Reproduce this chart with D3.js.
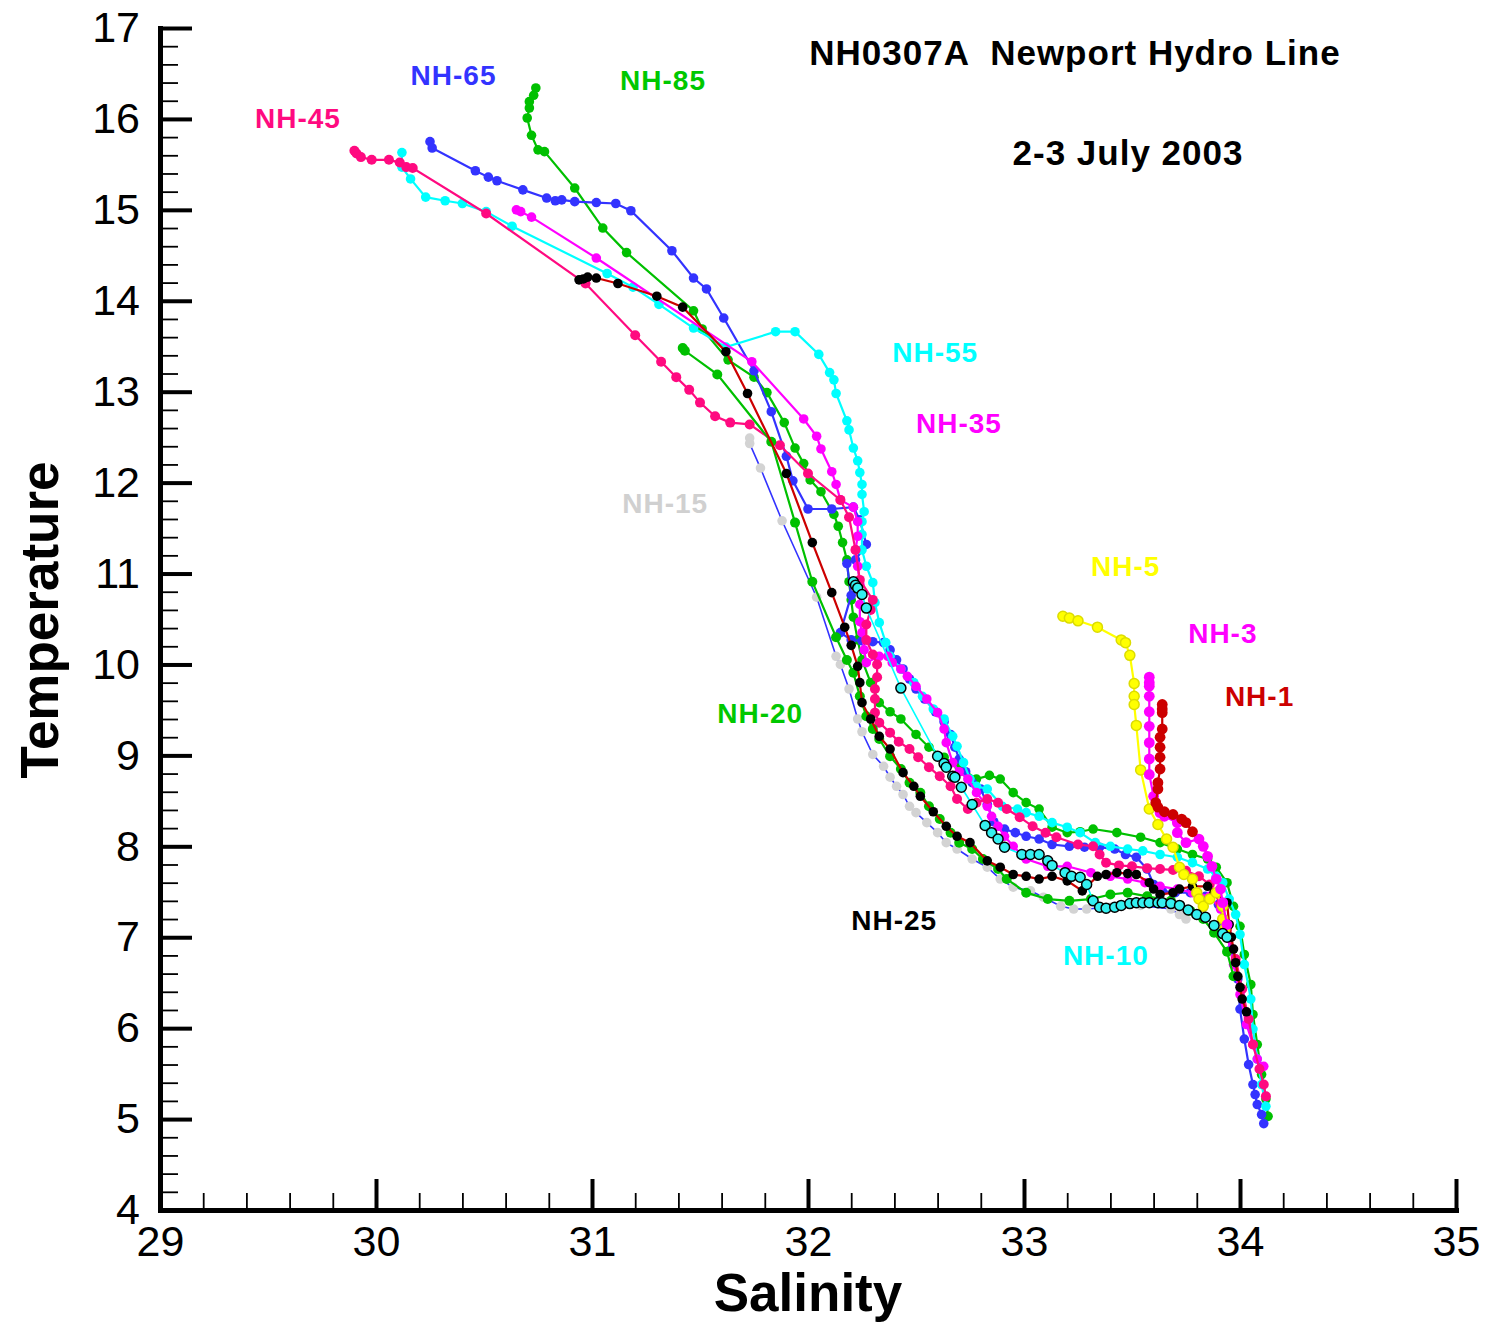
<!DOCTYPE html>
<html>
<head>
<meta charset="utf-8">
<script src="https://cdn.jsdelivr.net/npm/d3@7"></script>
<style>
  body { margin: 0; background: #fff; }
  svg { display: block; font-family: Arial, "Liberation Sans", sans-serif; }
  .axis .domain { stroke: #000; stroke-width: 5; stroke-linecap: square; }
  .axis .tick line { stroke: #000; stroke-width: 4; }
  .minor .tick line { stroke: #000; stroke-width: 1.8; }
  .minor .domain { display: none; }
  .axis text { font-size: 43px; fill: #000; }
  .stlabel { font-size: 28px; font-weight: bold; letter-spacing: 1px; }
</style>
</head>
<body>
<div id="container"></div>
<script>
// ---------------------------- DATA ----------------------------
// [salinity, temperature] pairs, one array per station
const nh1 = [[33.64,9.56],[33.64,9.51],[33.64,9.47],[33.64,9.29],[33.63,9.20],[33.63,9.09],[33.63,8.98],[33.63,8.85],
  [33.62,8.70],[33.62,8.63],[33.61,8.48],[33.62,8.43],[33.65,8.38],[33.69,8.35],[33.73,8.30],[33.75,8.26],[33.78,8.16]];

const nh3 = [[33.58,9.86],[33.58,9.80],[33.58,9.76],[33.58,9.65],[33.58,9.48],[33.58,9.32],[33.58,9.14],[33.58,8.96],
  [33.58,8.79],[33.60,8.55],[33.63,8.37],[33.65,8.33],[33.71,8.26],[33.71,8.15],[33.75,8.04],[33.81,8.08],
  [33.83,8.00],[33.85,7.89],[33.87,7.78],[33.89,7.64],[33.91,7.53],[33.92,7.38],[33.94,7.14]];

const nh5 = [[33.18,10.53],[33.21,10.51],[33.25,10.48],[33.34,10.41],[33.45,10.27],[33.47,10.24],[33.49,10.10],
  [33.51,9.79],[33.51,9.65],[33.51,9.56],[33.52,9.33],[33.54,8.84],[33.58,8.41],[33.62,8.24],[33.66,8.08],
  [33.69,7.99],[33.72,7.77],[33.74,7.69],[33.78,7.64],[33.80,7.49],[33.81,7.42],[33.83,7.34],[33.86,7.42],
  [33.89,7.49],[33.92,7.34],[33.92,7.20],[33.93,7.09]];

const nh10 = [[32.21,10.91],[32.22,10.87],[32.23,10.84],[32.25,10.77],[32.27,10.62],[32.43,9.74],[32.60,8.99],
  [32.63,8.91],[32.64,8.87],[32.67,8.77],[32.68,8.76],[32.71,8.65],[32.76,8.46],[32.82,8.23],[32.85,8.15],
  [32.88,8.08],[32.91,7.99],[32.99,7.91],[33.03,7.91],[33.07,7.91],[33.11,7.84],[33.13,7.79],[33.19,7.71],
  [33.22,7.67],[33.26,7.66],[33.29,7.58],[33.32,7.40],[33.35,7.33],[33.38,7.32],[33.42,7.33],[33.45,7.35],
  [33.49,7.37],[33.52,7.38],[33.55,7.38],[33.58,7.38],[33.62,7.38],[33.64,7.38],[33.68,7.37],[33.72,7.35],
  [33.76,7.30],[33.80,7.25],[33.84,7.22],[33.88,7.13],[33.92,7.04],[33.94,7.00]];

const nh15 = [[31.73,12.49],[31.73,12.43],[31.78,12.16],[31.88,11.58],[32.04,10.74],[32.13,10.09],[32.15,10.00],
  [32.19,9.73],[32.23,9.40],[32.25,9.26],[32.30,9.01],[32.35,8.88],[32.38,8.76],[32.41,8.66],[32.44,8.57],
  [32.47,8.44],[32.50,8.37],[32.55,8.26],[32.60,8.15],[32.64,8.04],[32.69,7.97],[32.76,7.86],[32.83,7.77],
  [32.89,7.64],[32.95,7.55],[33.03,7.51],[33.09,7.44],[33.17,7.34],[33.23,7.31],[33.29,7.31],[33.40,7.33],
  [33.54,7.35],[33.68,7.31],[33.72,7.25],[33.75,7.20]];

const nh20 = [[31.42,13.48],[31.43,13.45],[31.58,13.19],[31.83,12.45],[31.94,11.56],[32.02,10.91],[32.13,10.30],
  [32.18,10.05],[32.21,9.91],[32.24,9.65],[32.27,9.43],[32.30,9.29],[32.33,9.18],[32.38,8.99],[32.43,8.85],
  [32.47,8.70],[32.52,8.59],[32.56,8.44],[32.61,8.30],[32.66,8.15],[32.70,8.04],[32.76,7.97],[32.81,7.86],
  [32.88,7.75],[32.92,7.64],[33.01,7.49],[33.11,7.42],[33.21,7.40],[33.31,7.42],[33.40,7.47],[33.48,7.49],
  [33.57,7.45],[33.68,7.40],[33.77,7.29],[33.83,7.20],[33.88,7.05],[33.94,6.84],[33.97,6.57]];

const nh25 = [[30.94,14.23],[30.96,14.24],[30.98,14.26],[31.02,14.25],[31.12,14.19],[31.30,14.05],[31.42,13.93],
  [31.62,13.44],[31.72,12.98],[31.90,12.10],[32.02,11.34],[32.11,10.79],[32.17,10.41],[32.20,10.21],[32.23,9.98],
  [32.24,9.80],[32.25,9.58],[32.29,9.40],[32.33,9.21],[32.38,9.07],[32.44,8.81],[32.49,8.66],[32.52,8.55],
  [32.58,8.38],[32.64,8.22],[32.69,8.11],[32.75,8.04],[32.83,7.84],[32.89,7.77],[32.95,7.69],[33.01,7.67],
  [33.07,7.64],[33.13,7.67],[33.20,7.62],[33.27,7.51],[33.34,7.67],[33.38,7.69],[33.43,7.71],[33.48,7.70],
  [33.52,7.69],[33.58,7.60],[33.60,7.53],[33.63,7.47],[33.69,7.49],[33.72,7.53],[33.78,7.56],[33.85,7.56],
  [33.88,7.49],[33.94,7.38],[33.95,7.14],[33.96,7.00],[33.97,6.87],[33.98,6.72],[33.99,6.57],[34.00,6.45],
  [34.01,6.32],[34.03,6.18]];

const nh35 = [[30.65,15.00],[30.67,14.98],[30.72,14.92],[31.02,14.47],[31.74,13.33],[31.98,12.70],[32.04,12.51],
  [32.06,12.37],[32.11,12.12],[32.13,11.98],[32.15,11.81],[32.21,11.73],[32.23,11.57],[32.23,11.41],[32.22,11.26],
  [32.23,11.08],[32.24,10.88],[32.24,10.66],[32.24,10.47],[32.25,10.35],[32.26,10.16],[32.27,10.02],[32.33,10.09],
  [32.37,10.09],[32.39,10.02],[32.43,9.95],[32.46,9.87],[32.50,9.76],[32.55,9.62],[32.60,9.47],[32.63,9.29],
  [32.64,9.14],[32.67,8.92],[32.70,8.82],[32.74,8.74],[32.78,8.59],[32.83,8.44],[32.85,8.33],[32.88,8.22],
  [32.91,8.11],[32.95,8.00],[33.01,7.86],[33.11,7.78],[33.20,7.78],[33.31,7.71],[33.40,7.67],[33.48,7.64],
  [33.56,7.60],[33.63,7.56],[33.71,7.53],[33.78,7.49],[33.86,7.45],[33.91,7.31],[33.94,7.03],[33.97,6.70],
  [34.00,6.37],[34.03,6.04],[34.06,5.82],[34.08,5.66],[34.11,5.58]];

const nh45 = [[29.90,15.65],[29.91,15.62],[29.93,15.58],[29.98,15.55],[30.06,15.55],[30.11,15.52],[30.14,15.47],
  [30.17,15.46],[30.51,14.96],[30.97,14.19],[31.20,13.62],[31.32,13.33],[31.39,13.16],[31.45,13.02],[31.50,12.88],
  [31.57,12.73],[31.64,12.66],[31.73,12.64],[31.87,12.41],[32.00,12.10],[32.15,11.81],[32.19,11.62],[32.22,11.26],
  [32.24,10.93],[32.30,10.71],[32.29,10.60],[32.27,10.44],[32.27,10.27],[32.30,10.11],[32.32,10.00],[32.32,9.86],
  [32.31,9.73],[32.31,9.62],[32.31,9.47],[32.33,9.36],[32.38,9.25],[32.42,9.15],[32.47,9.07],[32.51,8.98],
  [32.56,8.87],[32.61,8.77],[32.66,8.66],[32.69,8.52],[32.74,8.41],[32.78,8.48],[32.83,8.52],[32.88,8.48],
  [32.92,8.41],[32.98,8.32],[33.04,8.22],[33.10,8.15],[33.15,8.10],[33.25,8.02],[33.32,8.00],[33.35,7.91],
  [33.38,7.82],[33.44,7.79],[33.50,7.78],[33.57,7.76],[33.63,7.75],[33.69,7.74],[33.75,7.73],[33.81,7.67],
  [33.86,7.58],[33.91,7.36],[33.94,7.09],[33.98,6.76],[34.01,6.43],[34.04,6.10],[34.06,5.82],[34.09,5.55],
  [34.11,5.38],[34.12,5.25]];

const nh55 = [[30.12,15.63],[30.12,15.47],[30.16,15.34],[30.23,15.14],[30.32,15.10],[30.40,15.07],[30.51,14.98],
  [30.63,14.82],[31.07,14.30],[31.19,14.15],[31.31,13.96],[31.47,13.70],[31.62,13.49],[31.85,13.66],[31.94,13.66],
  [32.05,13.41],[32.10,13.21],[32.12,13.13],[32.13,12.98],[32.18,12.68],[32.19,12.58],[32.21,12.38],[32.23,12.24],
  [32.24,12.11],[32.25,11.98],[32.25,11.87],[32.26,11.68],[32.25,11.57],[32.25,11.43],[32.25,11.26],[32.27,11.08],
  [32.30,10.90],[32.31,10.68],[32.33,10.46],[32.36,10.24],[32.38,10.09],[32.43,9.95],[32.49,9.80],[32.53,9.65],
  [32.58,9.51],[32.63,9.40],[32.67,9.21],[32.69,9.10],[32.72,8.92],[32.75,8.74],[32.78,8.66],[32.83,8.63],
  [32.90,8.44],[32.97,8.41],[33.01,8.37],[33.07,8.33],[33.13,8.26],[33.20,8.21],[33.26,8.15],[33.33,8.04],
  [33.40,8.00],[33.48,7.97],[33.55,7.95],[33.63,7.91],[33.71,7.88],[33.78,7.82],[33.85,7.75],[33.89,7.67],
  [33.92,7.60],[33.95,7.42],[33.98,7.25],[34.00,7.03],[34.02,6.70],[34.05,6.32],[34.06,5.99],[34.08,5.66],
  [34.10,5.38],[34.12,5.14]];

const nh65 = [[30.25,15.75],[30.26,15.68],[30.46,15.43],[30.52,15.36],[30.56,15.32],[30.68,15.22],[30.79,15.13],
  [30.83,15.10],[30.86,15.11],[30.92,15.09],[31.02,15.08],[31.11,15.07],[31.18,14.99],[31.37,14.55],[31.47,14.25],
  [31.53,14.13],[31.61,13.81],[31.75,13.23],[31.83,12.78],[31.90,12.29],[31.93,12.02],[32.00,11.71],[32.11,11.71],
  [32.21,11.73],[32.24,11.59],[32.27,11.32],[32.22,11.15],[32.18,11.11],[32.20,10.76],[32.15,10.35],[32.20,10.27],
  [32.25,10.26],[32.30,10.25],[32.35,10.24],[32.38,10.16],[32.41,10.05],[32.44,9.95],[32.47,9.84],[32.50,9.73],
  [32.54,9.62],[32.59,9.48],[32.63,9.37],[32.66,9.23],[32.68,9.09],[32.70,8.96],[32.73,8.82],[32.76,8.70],
  [32.80,8.63],[32.83,8.46],[32.86,8.27],[32.91,8.19],[32.96,8.15],[33.01,8.11],[33.07,8.08],[33.13,8.02],
  [33.21,8.00],[33.28,7.99],[33.35,7.99],[33.42,7.97],[33.47,7.91],[33.52,7.88],[33.57,7.75],[33.60,7.58],
  [33.64,7.51],[33.70,7.49],[33.77,7.49],[33.84,7.45],[33.90,7.36],[33.93,7.14],[33.96,6.87],[33.99,6.54],
  [34.00,6.21],[34.02,5.88],[34.04,5.60],[34.06,5.38],[34.07,5.27],[34.08,5.16],[34.10,5.05],[34.11,4.95]];

const nh85 = [[30.74,16.34],[30.73,16.26],[30.71,16.19],[30.71,16.12],[30.70,16.01],[30.72,15.82],[30.75,15.66],
  [30.78,15.64],[30.92,15.24],[31.05,14.80],[31.16,14.53],[31.47,13.89],[31.51,13.69],[31.63,13.35],[31.75,13.16],
  [31.81,12.99],[31.89,12.66],[31.94,12.38],[31.98,12.21],[32.01,12.03],[32.06,11.90],[32.12,11.65],[32.14,11.52],
  [32.16,11.34],[32.18,11.15],[32.19,10.91],[32.20,10.71],[32.21,10.52],[32.23,10.27],[32.25,10.05],[32.29,9.80],
  [32.33,9.58],[32.38,9.48],[32.43,9.40],[32.50,9.23],[32.56,9.09],[32.63,8.98],[32.70,8.87],[32.78,8.74],
  [32.84,8.78],[32.89,8.74],[32.95,8.59],[33.01,8.48],[33.07,8.41],[33.13,8.21],[33.20,8.15],[33.26,8.16],
  [33.32,8.19],[33.43,8.15],[33.54,8.10],[33.63,8.04],[33.71,7.97],[33.78,7.91],[33.85,7.86],[33.89,7.77],
  [33.94,7.60],[33.97,7.34],[34.00,7.12],[34.02,6.81],[34.05,6.48],[34.06,6.15],[34.08,5.82],[34.10,5.49],
  [34.12,5.22],[34.13,5.03]];

// label anchors (salinity, temperature)
const stationLabels = [
  ["NH-45", 29.44, 15.90], ["NH-65", 30.16, 16.37], ["NH-85", 31.13, 16.32],
  ["NH-55", 32.39, 13.33], ["NH-35", 32.50, 12.55], ["NH-15", 31.14, 11.67],
  ["NH-5", 33.31, 10.97], ["NH-3", 33.76, 10.24], ["NH-1", 33.93, 9.54],
  ["NH-20", 31.58, 9.36], ["NH-25", 32.20, 7.08], ["NH-10", 33.18, 6.69]
];

const salinityTicks = [29, 30, 31, 32, 33, 34, 35];
const temperatureTicks = [4, 5, 6, 7, 8, 9, 10, 11, 12, 13, 14, 15, 16, 17];

// drawing order and styles
const stations = [
  { name: "NH-15", data: nh15, line: "#3333ff", fill: "#d3d3d3", r: 4.8, lw: 1.6 },
  { name: "NH-85", data: nh85, line: "#00c000", fill: "#00c000", r: 4.8, lw: 2.2 },
  { name: "NH-65", data: nh65, line: "#3333ff", fill: "#3333ff", r: 4.8, lw: 2.2 },
  { name: "NH-55", data: nh55, line: "#00ffff", fill: "#00ffff", r: 4.8, lw: 2.2 },
  { name: "NH-35", data: nh35, line: "#ff00ff", fill: "#ff00ff", r: 4.8, lw: 2.2 },
  { name: "NH-45", data: nh45, line: "#ff0a80", fill: "#ff0a80", r: 5, lw: 2.2 },
  { name: "NH-20", data: nh20, line: "#00c000", fill: "#00c000", r: 5, lw: 2.2 },
  { name: "NH-25", data: nh25, line: "#cc0000", fill: "#000000", r: 4.8, lw: 2.2 },
  { name: "NH-5",  data: nh5,  line: "#ffff00", fill: "#ffff00", r: 5, lw: 2.2, stroke: "#dcdc00" },
  { name: "NH-3",  data: nh3,  line: "#ff00ff", fill: "#ff00ff", r: 5.4, lw: 2.2 },
  { name: "NH-1",  data: nh1,  line: "#cc0000", fill: "#cc0000", r: 5.4, lw: 2.2 },
  { name: "NH-10", data: nh10, line: "#00ffff", fill: "#33f0f0", r: 5, lw: 1.6, stroke: "#000" }
];

const labelColors = {
  "NH-45": "#ff0a80", "NH-65": "#3333ff", "NH-85": "#00c800", "NH-55": "#00ffff",
  "NH-35": "#ff00ff", "NH-15": "#d0d0d0", "NH-5": "#ffff00", "NH-3": "#ff00ff",
  "NH-1": "#cc0000", "NH-20": "#00c800", "NH-25": "#000000", "NH-10": "#00ffff"
};

// ---------------------------- SVG ----------------------------
const width = 1485;
const height = 1322;

const svg = d3.select("#container").append("svg")
  .attr("width", width)
  .attr("height", height);

const x = d3.scaleLinear().domain([29, 35]).range([160, 1456]);
const y = d3.scaleLinear().domain([4, 17]).range([1210, 28]);

const minorX = d3.range(29, 35.001, 0.2).filter(v => Math.abs(v - Math.round(v)) > 0.01);
const minorY = d3.range(4, 17.001, 0.2).filter(v => Math.abs(v - Math.round(v)) > 0.01);

// minor ticks
svg.append("g")
  .attr("class", "minor")
  .attr("transform", "translate(0,1210)")
  .call(d3.axisBottom(x).tickValues(minorX).tickSizeInner(-17).tickSizeOuter(0).tickFormat(""));

svg.append("g")
  .attr("class", "minor")
  .attr("transform", "translate(160,0)")
  .call(d3.axisLeft(y).tickValues(minorY).tickSizeInner(-18).tickSizeOuter(0).tickFormat(""));

// major ticks + labels
svg.append("g")
  .attr("class", "axis")
  .attr("transform", "translate(0,1210)")
  .call(d3.axisBottom(x).tickValues(salinityTicks).tickSizeInner(-31).tickSizeOuter(0).tickPadding(15).tickFormat(d3.format("d")));

svg.append("g")
  .attr("class", "axis")
  .attr("transform", "translate(160,0)")
  .call(d3.axisLeft(y).tickValues(temperatureTicks).tickSizeInner(-32).tickSizeOuter(0).tickPadding(20).tickFormat(d3.format("d")));

// axis titles
svg.append("text")
  .attr("x", 808).attr("y", 1311)
  .attr("text-anchor", "middle")
  .style("font-size", "53px").style("font-weight", "bold")
  .text("Salinity");

svg.append("text")
  .attr("transform", "translate(58,620) rotate(-90)")
  .attr("text-anchor", "middle")
  .style("font-size", "53px").style("font-weight", "bold")
  .text("Temperature");

// ---------------------------- PROFILES ----------------------------
const line = d3.line()
  .x(d => x(d[0]))
  .y(d => y(d[1]));

stations.forEach(function (s) {
  const g = svg.append("g").attr("class", "station");
  g.append("path")
    .attr("d", line(s.data))
    .attr("fill", "none")
    .attr("stroke", s.line)
    .attr("stroke-width", s.lw);
  g.selectAll("circle")
    .data(s.data)
    .enter()
    .append("circle")
    .attr("cx", d => x(d[0]))
    .attr("cy", d => y(d[1]))
    .attr("r", s.r)
    .attr("fill", s.fill)
    .attr("stroke", s.stroke || "none")
    .attr("stroke-width", s.stroke ? 1.5 : 0);
});

// ---------------------------- LABELS ----------------------------
svg.selectAll(".stlabel")
  .data(stationLabels)
  .enter()
  .append("text")
  .attr("class", "stlabel")
  .attr("x", d => x(d[1]))
  .attr("y", d => y(d[2]))
  .attr("fill", d => labelColors[d[0]])
  .text(d => d[0]);

svg.append("text")
  .attr("x", 1075).attr("y", 65)
  .attr("text-anchor", "middle")
  .style("font-size", "35px").style("font-weight", "bold")
  .style("letter-spacing", "1px").style("white-space", "pre")
  .text("NH0307A  Newport Hydro Line");

svg.append("text")
  .attr("x", 1128).attr("y", 165)
  .attr("text-anchor", "middle")
  .style("font-size", "35px").style("font-weight", "bold")
  .style("letter-spacing", "1px")
  .text("2-3 July 2003");
</script>
</body>
</html>
